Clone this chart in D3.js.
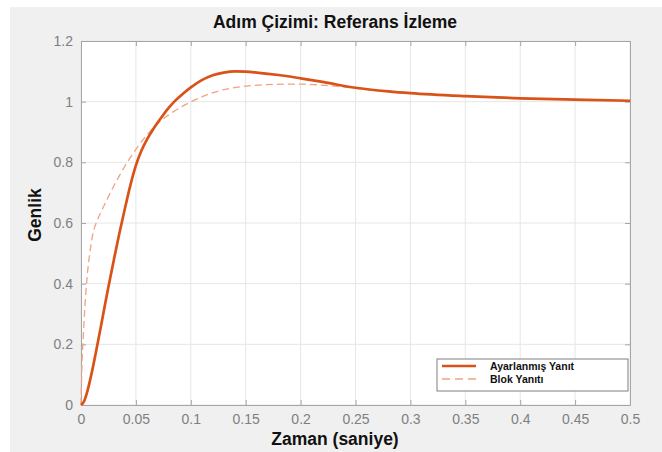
<!DOCTYPE html>
<html>
<head>
<meta charset="utf-8">
<script src="https://cdn.jsdelivr.net/npm/d3@7"></script>
<style>
  body { margin: 0; background: #fff; }
  svg { display: block; font-family: "Liberation Sans", Arial, sans-serif; }
</style>
</head>
<body>
<svg width="662" height="452"></svg>
<script>
// values
var tunedT = [0, 0.0025, 0.005, 0.01, 0.015, 0.02, 0.025, 0.03, 0.035, 0.04, 0.045, 0.05, 0.055, 0.06, 0.065, 0.07, 0.075, 0.08, 0.085, 0.09, 0.1, 0.11, 0.12, 0.13, 0.14, 0.15, 0.16, 0.18, 0.2, 0.22, 0.25, 0.28, 0.3, 0.35, 0.4, 0.45, 0.5];
var tunedY = [0, 0.01, 0.035, 0.11, 0.2, 0.295, 0.39, 0.48, 0.567, 0.648, 0.725, 0.79, 0.838, 0.875, 0.905, 0.932, 0.957, 0.98, 1.0, 1.017, 1.047, 1.071, 1.087, 1.096, 1.1, 1.099, 1.096, 1.088, 1.077, 1.065, 1.046, 1.034, 1.028, 1.018, 1.011, 1.0066, 1.003];

var blockT = [0, 0.001, 0.002, 0.0035, 0.0055, 0.008, 0.0106, 0.015, 0.02, 0.025, 0.03, 0.035, 0.04, 0.045, 0.05, 0.06, 0.07, 0.08, 0.09, 0.1, 0.11, 0.127, 0.15, 0.175, 0.2, 0.225, 0.25, 0.275, 0.3, 0.35, 0.4, 0.45, 0.5];
var blockY = [0, 0.15, 0.22, 0.32, 0.42, 0.5, 0.56, 0.61, 0.65, 0.687, 0.723, 0.756, 0.788, 0.816, 0.843, 0.89, 0.928, 0.957, 0.98, 0.999, 1.016, 1.037, 1.051, 1.057, 1.058, 1.053, 1.044, 1.035, 1.028, 1.018, 1.011, 1.0066, 1.003];

var xTicks = [0, 0.05, 0.1, 0.15, 0.2, 0.25, 0.3, 0.35, 0.4, 0.45, 0.5];
var yTicks = [0, 0.2, 0.4, 0.6, 0.8, 1, 1.2];
var seriesNames = ["Ayarlanmış Yanıt", "Blok Yanıtı"];

var svg = d3.select("svg");
var pLeft = 81, pRight = 630, pTop = 41, pBottom = 405;

svg.append("rect").attr("x", 10).attr("y", 7).attr("width", 652).attr("height", 445).attr("fill", "#f0f0f0");
svg.append("rect").attr("x", pLeft).attr("y", pTop).attr("width", pRight - pLeft).attr("height", pBottom - pTop).attr("fill", "#fff");

var x = d3.scaleLinear().domain([0, 0.5]).range([pLeft, pRight]);
var y = d3.scaleLinear().domain([0, 1.2]).range([pBottom, pTop]);

// grid
svg.append("g").selectAll("line").data(xTicks).enter().append("line")
  .attr("x1", d => x(d)).attr("x2", d => x(d)).attr("y1", pTop).attr("y2", pBottom)
  .attr("stroke", "#e6e6e6").attr("stroke-width", 1);
svg.append("g").selectAll("line").data(yTicks).enter().append("line")
  .attr("y1", d => y(d)).attr("y2", d => y(d)).attr("x1", pLeft).attr("x2", pRight)
  .attr("stroke", "#e6e6e6").attr("stroke-width", 1);

var fmt = d => d3.format("~g")(d);

svg.append("g").attr("transform", "translate(0," + pBottom + ")")
  .call(d3.axisBottom(x).tickValues(xTicks).tickFormat(fmt).tickSizeInner(-5).tickSizeOuter(0).tickPadding(9));
svg.append("g").attr("transform", "translate(" + pLeft + ",0)")
  .call(d3.axisLeft(y).tickValues(yTicks).tickFormat(fmt).tickSizeInner(-5).tickSizeOuter(0).tickPadding(8));
svg.append("g").attr("transform", "translate(0," + pTop + ")")
  .call(d3.axisTop(x).tickValues(xTicks).tickFormat("").tickSizeInner(-5).tickSizeOuter(0));
svg.append("g").attr("transform", "translate(" + pRight + ",0)")
  .call(d3.axisRight(y).tickValues(yTicks).tickFormat("").tickSizeInner(-5).tickSizeOuter(0));

svg.selectAll(".domain").attr("stroke", "#a6a6a6");
svg.selectAll(".tick line").attr("stroke", "#a6a6a6");
svg.selectAll(".tick text").attr("fill", "#7f7f7f").attr("font-size", 14);

var line = d3.line().x(d => x(d[0])).y(d => y(d[1])).curve(d3.curveMonotoneX);

svg.append("path").datum(d3.zip(blockT, blockY)).attr("d", line)
  .attr("fill", "none").attr("stroke", "#f0a282").attr("stroke-width", 1.3).attr("stroke-dasharray", "7,4");
svg.append("path").datum(d3.zip(tunedT, tunedY)).attr("d", line)
  .attr("fill", "none").attr("stroke", "#d95319").attr("stroke-width", 2.7);

// title and labels
svg.append("text").attr("x", 335).attr("y", 28).attr("text-anchor", "middle")
  .attr("font-size", 17.5).attr("font-weight", "bold").attr("fill", "#111").text("Adım Çizimi: Referans İzleme");
svg.append("text").attr("x", 335).attr("y", 445).attr("text-anchor", "middle")
  .attr("font-size", 17.5).attr("font-weight", "bold").attr("fill", "#111").text("Zaman (saniye)");
svg.append("text").attr("transform", "translate(41,215) rotate(-90)").attr("text-anchor", "middle")
  .attr("font-size", 17.5).attr("font-weight", "bold").attr("fill", "#111").text("Genlik");

// legend
var lg = svg.append("g").attr("transform", "translate(437,359)");
lg.append("rect").attr("width", 191).attr("height", 32).attr("fill", "#fff").attr("stroke", "#7f7f7f");
var styles = [{ c: "#d95319", w: 2.7, dash: null }, { c: "#f0a282", w: 1.3, dash: "8,5" }];
seriesNames.forEach(function (name, i) {
  lg.append("line").attr("x1", 5).attr("x2", 39).attr("y1", 7 + i * 13).attr("y2", 7 + i * 13)
    .attr("stroke", styles[i].c).attr("stroke-width", styles[i].w).attr("stroke-dasharray", styles[i].dash);
  lg.append("text").attr("x", 53).attr("y", 11 + i * 13).attr("font-size", 10.5).attr("font-weight", "bold")
    .attr("fill", "#111").text(name);
});
</script>
</body>
</html>
